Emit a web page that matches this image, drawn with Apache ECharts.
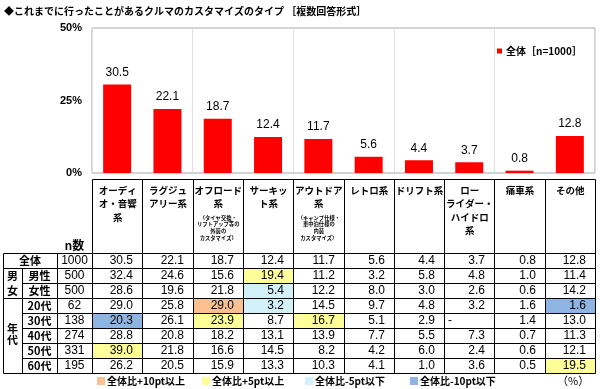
<!DOCTYPE html>
<html><head><meta charset="utf-8">
<script src="https://cdn.jsdelivr.net/npm/echarts@6/dist/echarts.min.js"></script>
<style>html,body{margin:0;padding:0;background:#fff}#c{width:600px;height:389px}</style>
</head><body><div id="c"></div>
<script>
// ---- data ----
const categories = ['オーディ\nオ・音響\n系', 'ラグジュ\nアリー系', 'オフロード\n系', 'サーキッ\nト系', 'アウトドア\n系', 'レトロ系', 'ドリフト系', 'ロー\nライダー・\nハイドロ\n系', '痛車系', 'その他'];
const categoryNotes = ['', '', '（タイヤ交換・\nリフトアップ等の\n外装の\nカスタマイズ）', '', '（キャンプ仕様・\n車中泊仕様の\n内装\nカスタマイズ）', '', '', '', '', ''];
const seriesName = '全体［n=1000］';
const totalValues = [30.5, 22.1, 18.7, 12.4, 11.7, 5.6, 4.4, 3.7, 0.8, 12.8];
const maleValues   = [32.4, 24.6, 15.6, 19.4, 11.2, 3.2, 5.8, 4.8, 1.0, 11.4];
const femaleValues = [28.6, 19.6, 21.8, 5.4, 12.2, 8.0, 3.0, 2.6, 0.6, 14.2];
const age20Values  = [29.0, 25.8, 29.0, 3.2, 14.5, 9.7, 4.8, 3.2, 1.6, 1.6];
const age30Values  = [20.3, 26.1, 23.9, 8.7, 16.7, 5.1, 2.9, null, 1.4, 13.0];
const age40Values  = [28.8, 20.8, 18.2, 13.1, 13.9, 7.7, 5.5, 7.3, 0.7, 11.3];
const age50Values  = [39.0, 21.8, 16.6, 14.5, 8.2, 4.2, 6.0, 2.4, 0.6, 12.1];
const age60Values  = [26.2, 20.5, 15.9, 13.3, 10.3, 4.1, 1.0, 3.6, 0.5, 19.5];
const rowLabels = ['全体', '男性', '女性', '20代', '30代', '40代', '50代', '60代'];
const rowN = [1000, 500, 500, 62, 138, 274, 331, 195];
const yTicks = [0, 25, 50];
const legendLabels = ['全体比+10pt以上', '全体比+5pt以上', '全体比-5pt以下', '全体比-10pt以下'];

const tableRows = [totalValues, maleValues, femaleValues, age20Values, age30Values, age40Values, age50Values, age60Values];
const COL_ORANGE = '#FAC090', COL_YELLOW = '#FFFF99', COL_CYAN = '#D3F1F9', COL_BLUE = '#8DB4E2';
function highlight(v, t, r) {
  if (r === 0 || v == null) return null;
  const d = Math.round((v - t) * 10) / 10;
  if (d >= 10) return COL_ORANGE;
  if (d >= 5) return COL_YELLOW;
  if (d <= -10) return COL_BLUE;
  if (d <= -5) return COL_CYAN;
  return null;
}

const JP = '"Noto Sans CJK JP", sans-serif';
const NUM = '"Liberation Sans", "Noto Sans CJK JP", sans-serif';
const LINE = { fill: 'none', stroke: '#000', lineWidth: 1 };

const cellData = [];
tableRows.forEach((row, r) => row.forEach((v, c) => cellData.push([c, r])));
const labelData = rowLabels.map((l, r) => [0, r]);
const headerData = categories.map((l, c) => [c, 0]);

function cellRender(params, api) {
  const c = api.value(0), r = api.value(1);
  const p = api.coord([c, r]), s = api.size([1, 1]);
  const x0 = Math.round(p[0] - s[0] / 2), x1 = Math.round(p[0] + s[0] / 2);
  const y0 = Math.round(p[1] - s[1] / 2), y1 = Math.round(p[1] + s[1] / 2);
  const v = tableRows[r][c];
  const fill = highlight(v, totalValues[c], r);
  return { type: 'group', children: [
    { type: 'rect', shape: { x: x0 + 0.5, y: y0 + 0.5, width: x1 - x0, height: y1 - y0 },
      style: { fill: fill || 'none', stroke: '#000', lineWidth: 1 } },
    { type: 'text', style: { text: v == null ? '-' : v.toFixed(1), x: v == null ? x0 + 4 : x1 - 9, y: p[1] + 0.5,
      align: v == null ? 'left' : 'right', verticalAlign: 'middle', font: '12px ' + NUM, fill: '#000' } }
  ]};
}

function labelRender(params, api) {
  const r = api.value(1);
  const p = api.coord([0, r]), s = api.size([1, 1]);
  const L = Math.round(p[0] - s[0] / 2);
  const T = Math.round(p[1] - s[1] / 2), B = Math.round(p[1] + s[1] / 2);
  const H = B - T, cy = (T + B) / 2 + 0.5;
  const ch = [];
  const bold = 'bold 11px ' + JP;
  ch.push({ type: 'rect', shape: { x: L - 35 + 0.5, y: T + 0.5, width: 35, height: H }, style: LINE });
  ch.push({ type: 'text', style: { text: String(rowN[r]), x: L - 17.5, y: cy, align: 'center', verticalAlign: 'middle', font: '12px ' + NUM, fill: '#000' } });
  if (r === 0) {
    ch.push({ type: 'rect', shape: { x: L - 89 + 0.5, y: T + 0.5, width: 54, height: H }, style: LINE });
    ch.push({ type: 'text', style: { text: rowLabels[r], x: L - 62, y: cy, align: 'center', verticalAlign: 'middle', font: bold, fill: '#000' } });
    ch.push({ type: 'text', style: { text: 'n数', x: L - 17.5, y: T - 6, align: 'center', verticalAlign: 'middle', font: 'bold 12px ' + NUM, fill: '#000' } });
  } else {
    ch.push({ type: 'rect', shape: { x: L - 70 + 0.5, y: T + 0.5, width: 35, height: H }, style: LINE });
    ch.push({ type: 'text', style: { text: rowLabels[r], x: L - 52.5, y: cy, align: 'center', verticalAlign: 'middle', font: bold, fill: '#000' } });
  }
  if (r === 1) {
    ch.push({ type: 'rect', shape: { x: L - 89 + 0.5, y: T + 0.5, width: 19, height: H * 2 }, style: LINE });
    ch.push({ type: 'text', style: { text: '男', x: L - 79.5, y: cy, align: 'center', verticalAlign: 'middle', font: bold, fill: '#000' } });
    ch.push({ type: 'text', style: { text: '女', x: L - 79.5, y: cy + H, align: 'center', verticalAlign: 'middle', font: bold, fill: '#000' } });
  }
  if (r === 3) {
    ch.push({ type: 'rect', shape: { x: L - 89 + 0.5, y: T + 0.5, width: 19, height: H * 5 }, style: LINE });
    ch.push({ type: 'text', style: { text: '年\n代', x: L - 79.5, y: T + H * 2.5 - 1, align: 'center', verticalAlign: 'middle', lineHeight: 11, font: bold, fill: '#000' } });
  }
  return { type: 'group', children: ch };
}

function headerRender(params, api) {
  const c = api.value(0);
  const p = api.coord([c, 0]), s = api.size([1, 1]);
  const x0 = Math.round(p[0] - s[0] / 2), x1 = Math.round(p[0] + s[0] / 2);
  const B = Math.round(p[1] - s[1] / 2), T = B - 74;
  const ch = [
    { type: 'rect', shape: { x: x0 + 0.5, y: T + 0.5, width: x1 - x0, height: 74 }, style: LINE },
    { type: 'text', style: { text: categories[c], x: p[0] + 0.5, y: T + 4.5, align: 'center', verticalAlign: 'top', lineHeight: 13.5, font: 'bold 9.5px ' + JP, fill: '#000' } }
  ];
  if (categoryNotes[c]) {
    ch.push({ type: 'text', style: { text: categoryNotes[c], x: p[0] + 0.5, y: T + 35.5, align: 'center', verticalAlign: 'top', lineHeight: 6.6, font: 'bold 5.3px ' + JP, fill: '#000' } });
  }
  return { type: 'group', children: ch };
}

const legendColors = [COL_ORANGE, COL_YELLOW, COL_CYAN, COL_BLUE];
const legendX = [97, 202, 305, 410];
const graphics = [];
legendLabels.forEach((t, i) => {
  graphics.push({ type: 'rect', left: legendX[i], top: 377, shape: { width: 8, height: 8 }, style: { fill: legendColors[i] } });
  graphics.push({ type: 'text', left: legendX[i] + 10, top: 376, style: { text: t, font: 'bold 10px ' + JP, fill: '#000' } });
});
graphics.push({ type: 'text', left: 557, top: 375, style: { text: '（%）', font: '11px ' + JP, fill: '#000' } });

const chart = echarts.init(document.getElementById('c'));
chart.setOption({
  animation: false,
  title: { text: '◆これまでに行ったことがあるクルマのカスタマイズのタイプ ［複数回答形式］', left: 4, top: 6, padding: 0,
    textStyle: { fontSize: 10, fontWeight: 'bold', fontFamily: JP, color: '#000' } },
  legend: { data: [seriesName], left: 497, top: 46, padding: 0, icon: 'rect', itemWidth: 5, itemHeight: 5, itemGap: 4,
    textStyle: { fontSize: 10, fontWeight: 'bold', fontFamily: JP, color: '#000', padding: [0, 0, 0, -1] } },
  grid: [
    { left: 92, right: 5, top: 28, height: 145, show: true, borderColor: '#a6a6a6', borderWidth: 1, backgroundColor: '#fff' },
    { left: 92, right: 5, top: 253, height: 120 }
  ],
  xAxis: [
    { type: 'category', gridIndex: 0, data: categories, axisLine: { show: false }, axisTick: { show: false }, axisLabel: { show: false },
      splitLine: { show: true, lineStyle: { color: '#e0e0e0', width: 1 } } },
    { type: 'category', gridIndex: 1, data: categories, show: false }
  ],
  yAxis: [
    { type: 'value', gridIndex: 0, min: yTicks[0], max: yTicks[yTicks.length - 1], interval: 25,
      axisLine: { show: false }, axisTick: { show: false }, splitLine: { show: false },
      axisLabel: { formatter: '{value}%', margin: 10, fontSize: 11, fontWeight: 'bold', fontFamily: NUM, color: '#000' } },
    { type: 'category', gridIndex: 1, data: rowLabels, inverse: true, show: false }
  ],
  graphic: graphics,
  series: [
    { name: seriesName, type: 'bar', xAxisIndex: 0, yAxisIndex: 0, data: totalValues, barWidth: 28,
      itemStyle: { color: '#ff0000' },
      label: { show: true, position: 'top', distance: 6, fontSize: 12, fontFamily: NUM, color: '#000', formatter: p => p.value.toFixed(1) } },
    { type: 'custom', xAxisIndex: 1, yAxisIndex: 1, data: headerData, encode: { x: 0, y: 1 }, renderItem: headerRender, clip: false },
    { type: 'custom', xAxisIndex: 1, yAxisIndex: 1, data: cellData, encode: { x: 0, y: 1 }, renderItem: cellRender, clip: false },
    { type: 'custom', xAxisIndex: 1, yAxisIndex: 1, data: labelData, encode: { x: 0, y: 1 }, renderItem: labelRender, clip: false }
  ]
});
</script></body></html>
